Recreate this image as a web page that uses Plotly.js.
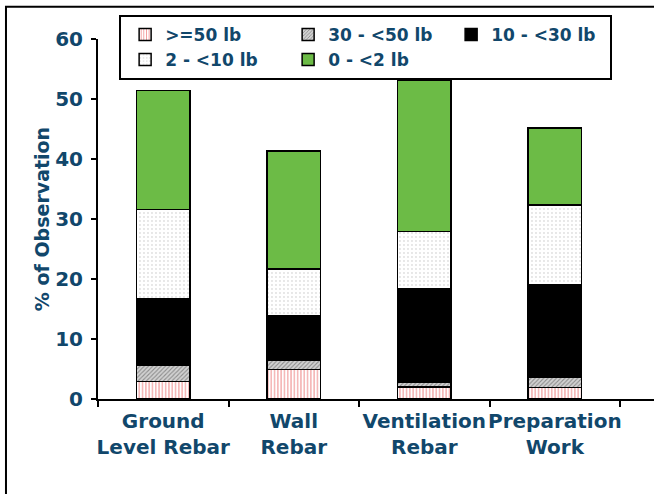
<!DOCTYPE html>
<html>
<head>
<meta charset="utf-8">
<script src="https://cdn.plot.ly/plotly-3.0.1.min.js"></script>
<style>
  html, body { margin: 0; padding: 0; background: #ffffff; }
  #chart { width: 654px; height: 494px; }
</style>
</head>
<body>
<div id="chart"></div>
<script>
// ---- data ----
const categories = ["Ground Level Rebar", "Wall Rebar", "Ventilation Rebar", "Preparation Work"];
const categoryLabels = ["Ground<br>Level Rebar", "Wall<br>Rebar", "Ventilation<br>Rebar", "Preparation<br>Work"];
const seriesNames = [">=50 lb", "30 - <50 lb", "10 - <30 lb", "2 - <10 lb", "0 - <2 lb"];
const over50 = [2.9, 4.9, 2.0, 1.9];
const from30to50 = [2.65, 1.5, 0.8, 1.8];
const from10to30 = [11.2, 7.4, 15.5, 15.4];
const from2to10 = [14.8, 7.9, 9.6, 13.2];
const from0to2 = [19.9, 19.6, 25.3, 12.9];
const yTicks = [0, 10, 20, 30, 40, 50, 60];
const gridTicks = [10, 20, 30, 40, 50];

// ---- styling ----
const txt = "#11476b";
const fam = "DejaVu Sans";
const outline = { color: "#000000", width: 1.5 };

function bar(name, values, marker) {
  return {
    type: "bar", name: name, x: categories, y: values, width: 0.41,
    marker: Object.assign({ line: outline }, marker),
    hoverinfo: "skip"
  };
}

const data = [
  bar(seriesNames[0], over50, { color: "#ffffff", pattern: { shape: "|", fgcolor: "#f29b9b", bgcolor: "#ffffff", size: 3.3, solidity: 0.35 } }),
  bar(seriesNames[1], from30to50, { color: "#c4c4c4", pattern: { shape: "/", fgcolor: "#8c8c8c", bgcolor: "#d2d2d2", size: 3, solidity: 0.35 } }),
  bar(seriesNames[2], from10to30, { color: "#000000" }),
  bar(seriesNames[3], from2to10, { color: "#ffffff", pattern: { shape: ".", fgcolor: "#c4c4c4", bgcolor: "#ffffff", size: 4, solidity: 0.1 } }),
  bar(seriesNames[4], from0to2, { color: "#6cbb46" })
];

const layout = {
  width: 654, height: 494,
  margin: { l: 98, r: 0, t: 39, b: 95, pad: 0 },
  paper_bgcolor: "#ffffff", plot_bgcolor: "rgba(0,0,0,0)",
  barmode: "stack",
  showlegend: true,
  font: { family: fam, color: txt, size: 20, weight: "bold" },
  xaxis: {
    type: "category",
    tickvals: categories, ticktext: categoryLabels,
    range: [-0.5, 3.76],
    tickson: "boundaries", tickangle: 0,
    ticks: "outside", ticklen: 6, tickwidth: 2, tickcolor: "#000000",
    ticklabelstandoff: 3,
    showline: true, linecolor: "#000000", linewidth: 2,
    showgrid: false, zeroline: false,
    tickfont: { family: fam, size: 20, color: txt, weight: "bold" },
    fixedrange: true
  },
  yaxis: {
    range: [0, 60], tickvals: yTicks,
    ticks: "outside", ticklen: 5, tickwidth: 2, tickcolor: "#000000",
    showline: true, linecolor: "#000000", linewidth: 2,
    showgrid: false, zeroline: false,
    ticklabelstandoff: 4,
    tickfont: { family: fam, size: 20, color: txt, weight: "bold" },
    title: { text: "% of Observation", font: { family: fam, size: 19, color: txt, weight: "bold" }, standoff: 1 },
    fixedrange: true
  },
  yaxis2: {
    overlaying: "y", range: [0, 60], tickvals: gridTicks,
    showgrid: true, gridcolor: "#1c1c1c", gridwidth: 1.6,
    showticklabels: false, ticks: "", showline: false, zeroline: false,
    fixedrange: true
  },
  legend: {
    orientation: "h", traceorder: "normal",
    x: 0.038, xanchor: "left", y: 1.067, yanchor: "top",
    bgcolor: "#ffffff", bordercolor: "#000000", borderwidth: 2,
    entrywidth: 114, entrywidthmode: "pixels",
    indentation: 4,
    font: { family: fam, size: 17, color: txt, weight: "bold" }
  },
  shapes: [
    { type: "rect", xref: "paper", yref: "paper", x0: -0.1655, x1: 1.2, y0: -0.6, y1: 1.0897,
      line: { color: "#000000", width: 2 }, fillcolor: "rgba(0,0,0,0)", layer: "above" }
  ]
};

Plotly.newPlot("chart", data, layout, { displayModeBar: false, staticPlot: true });
</script>
</body>
</html>
